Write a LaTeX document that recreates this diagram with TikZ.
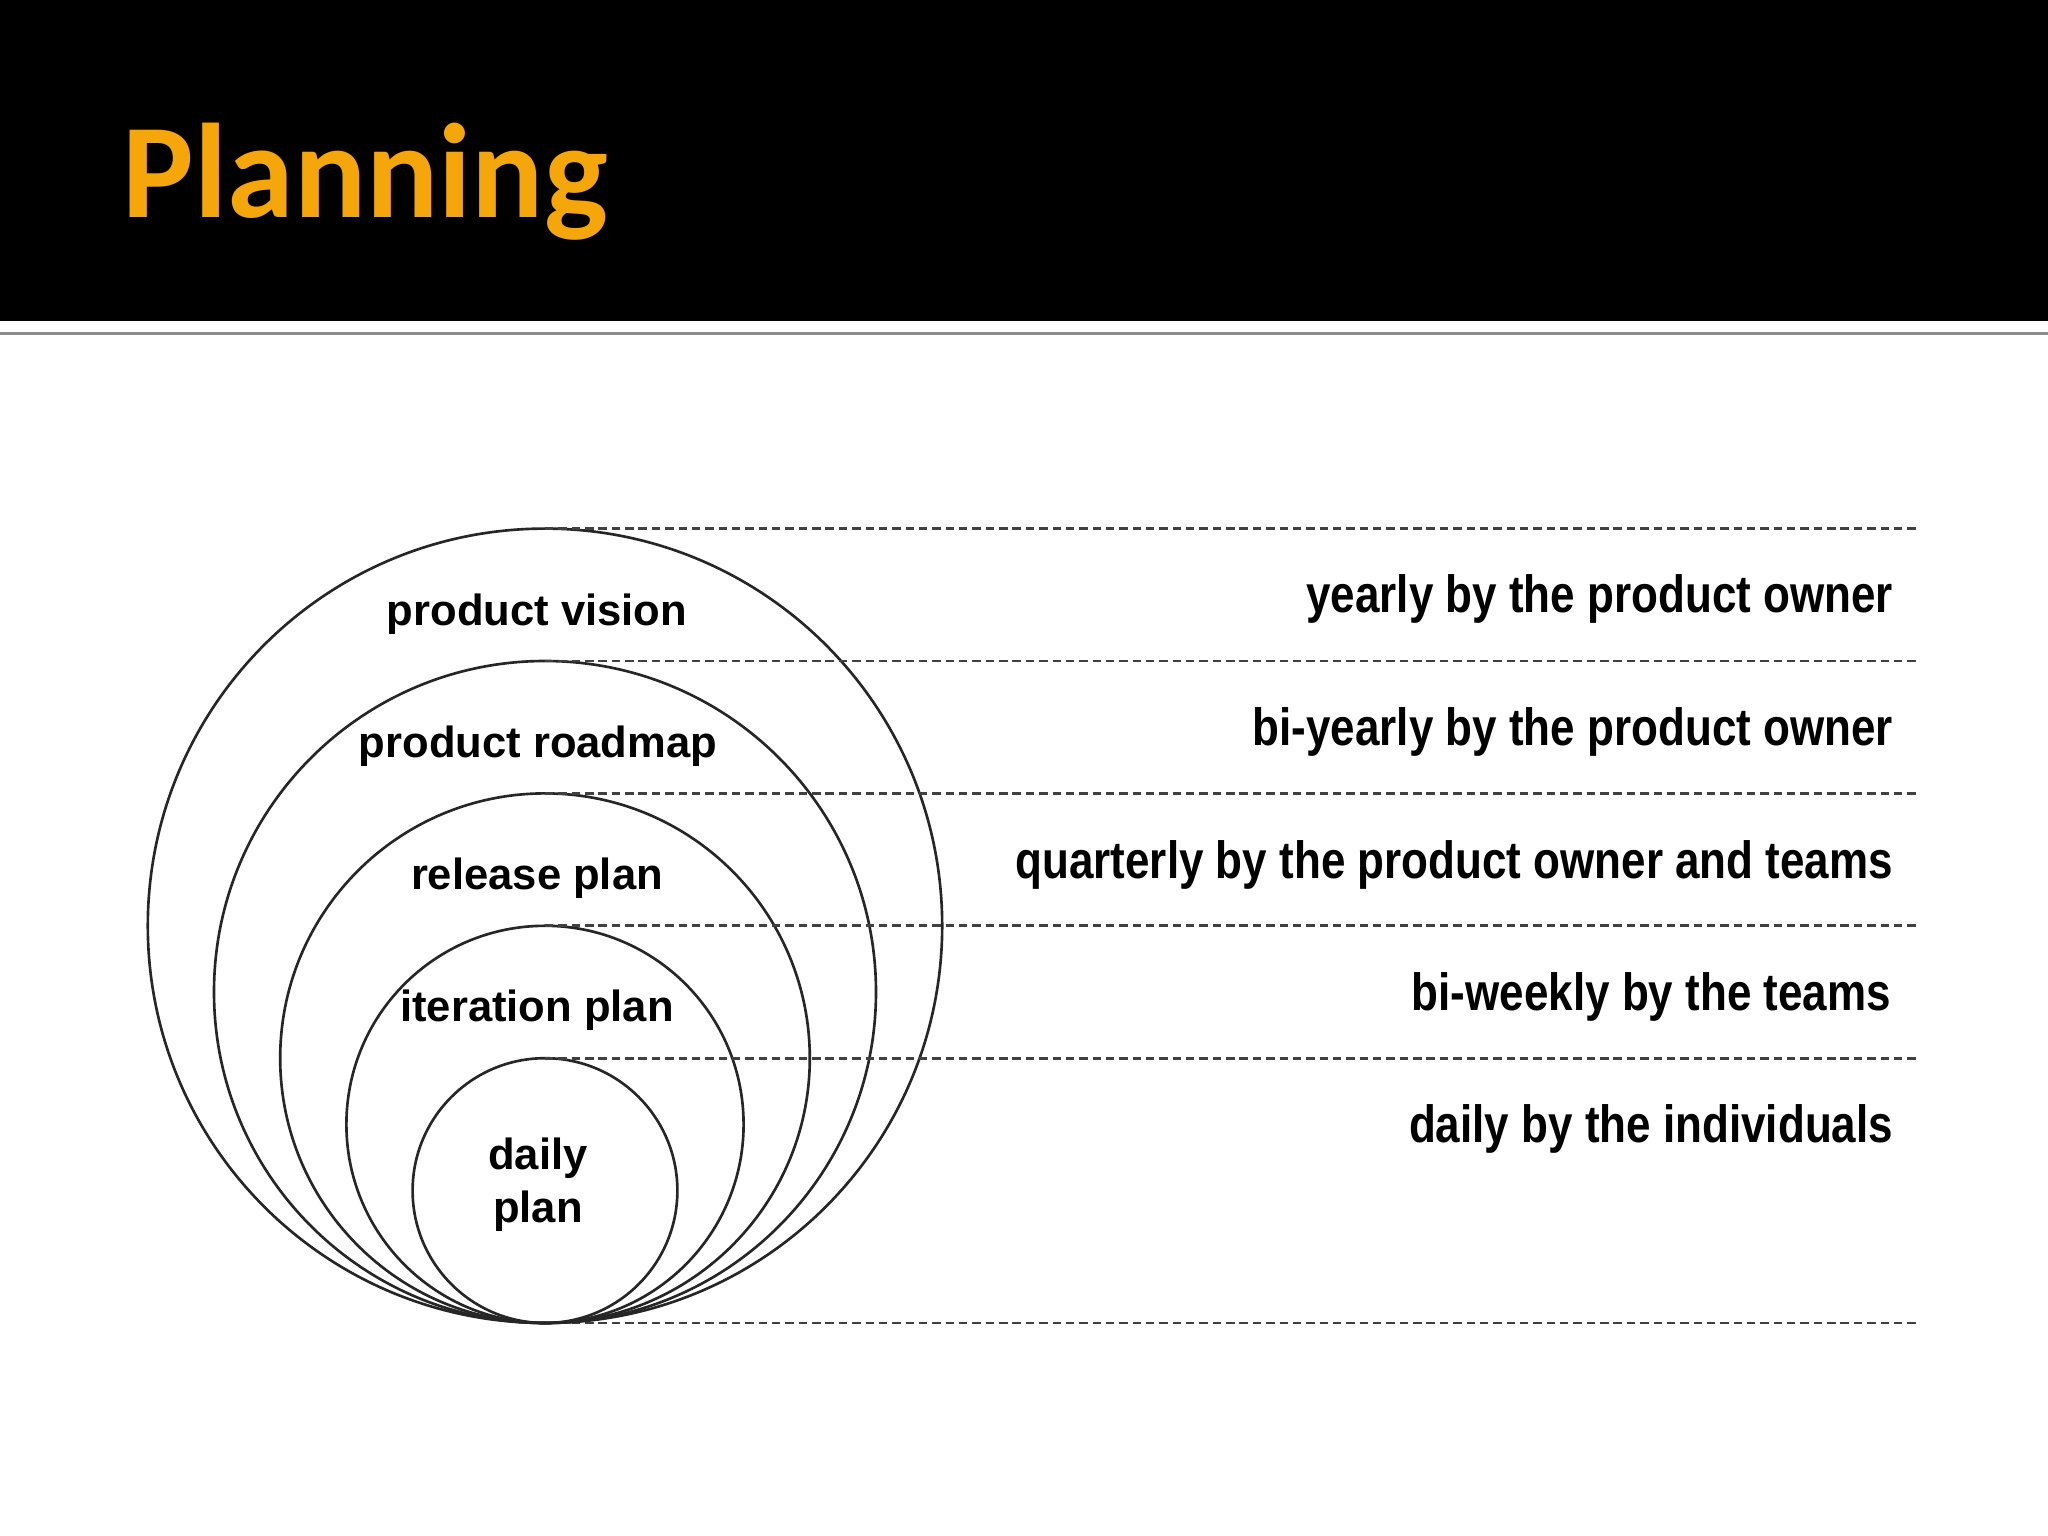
\documentclass[tikz,border=0pt]{standalone}
\usepackage{fontspec}
\newfontfamily\titlefont{Carlito}
\newfontfamily\planfont{Liberation Sans}
\newfontfamily\freqfont[FakeStretch=0.84]{Liberation Sans}
\definecolor{titleorange}{RGB}{245,166,10}
\definecolor{ruleg}{RGB}{140,140,140}
\usetikzlibrary{positioning}

\begin{document}
\begin{tikzpicture}[inner sep=0pt,outer sep=0pt,
  ring/.style={draw=black!85,line width=0.75pt,circle},
  tier/.style={draw=black!75,line width=0.75pt,dash pattern=on 2.4pt off 1.4pt},
  plan/.style={font=\planfont\bfseries\fontsize{12.4}{15.1}\selectfont,anchor=base},
  freq/.style={font=\freqfont\bfseries\fontsize{14.9}{18}\selectfont,anchor=base east}]
\useasboundingbox (0,0) rectangle (20.48,-15.36);
\fill[white] (0,0) rectangle (20.48,-15.36);
% header bar
\fill[black] (0,0) rectangle (20.48,-3.21);
\draw[ruleg,line width=0.9pt] (0,-3.335) -- (20.48,-3.335);
\node[anchor=base west,text=titleorange,font=\titlefont\bfseries\fontsize{38.3}{46}\selectfont] (title) at (1.23,-2.18) {Planning};
% nested circles, all touching at the bottom
\coordinate (base) at (5.45,-13.23);
\coordinate[right=13.72cm of base] (baseend);
\draw[tier] (base) -- (baseend);
\node[ring,minimum size=7.944cm,anchor=south] (vision) at (base) {};
\node[ring,minimum size=6.62cm,anchor=south] (roadmap) at (base) {};
\node[ring,minimum size=5.296cm,anchor=south] (release) at (base) {};
\node[ring,minimum size=3.972cm,anchor=south] (iteration) at (base) {};
\node[ring,minimum size=2.648cm,anchor=south] (daily) at (base) {};
\draw[tier] (vision.north) -- (vision.north -| baseend);
\draw[tier] (roadmap.north) -- (roadmap.north -| baseend);
\draw[tier] (release.north) -- (release.north -| baseend);
\draw[tier] (iteration.north) -- (iteration.north -| baseend);
\draw[tier] (daily.north) -- (daily.north -| baseend);
% circle labels
\node[plan] (visionlbl) at (5.37,-6.25) {product vision};
\node[plan] (roadmaplbl) at (5.38,-7.57) {product roadmap};
\node[plan] (releaselbl) at (5.37,-8.90) {release plan};
\node[plan] (iterationlbl) at (5.37,-10.22) {iteration plan};
\node[plan,align=center,anchor=center] (dailylbl) at (5.38,-11.85) {daily\\plan};
% how often, by whom
\node[freq] (yearly) at (18.93,-6.13) {yearly by the product owner};
\node[freq] (biyearly) at (18.93,-7.45) {bi-yearly by the product owner};
\node[freq] (quarterly) at (18.93,-8.78) {quarterly by the product owner and teams};
\node[freq] (biweekly) at (18.91,-10.10) {bi-weekly by the teams};
\node[freq] (dailyfreq) at (18.93,-11.42) {daily by the individuals};
\end{tikzpicture}
\end{document}
